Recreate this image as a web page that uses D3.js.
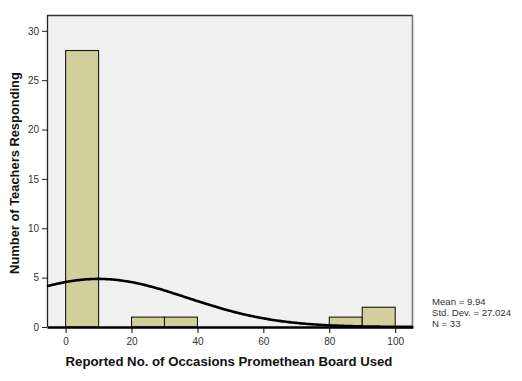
<!DOCTYPE html>
<html>
<head>
<meta charset="utf-8">
<script src="https://cdn.jsdelivr.net/npm/d3@7"></script>
<style>
  html, body { margin: 0; padding: 0; background: #fff; }
  svg { display: block; font-family: "Liberation Sans", Arial, sans-serif; }
</style>
</head>
<body>
<svg id="chart" width="522" height="381"></svg>
<script>
// Histogram bins (lower edge, upper edge) and counts
const binStarts = [0, 20, 30, 80, 90];
const binEnds   = [10, 30, 40, 90, 100];
const counts    = [28, 1, 1, 1, 2];

// Axis ticks
const xTicks = [0, 20, 40, 60, 80, 100];
const yTicks = [0, 5, 10, 15, 20, 25, 30];

// Summary statistics shown beside the plot
const mean = 9.94;
const stdDev = 27.024;
const n = 33;
const binWidth = 10;
const statLines = ["Mean = 9.94", "Std. Dev. = 27.024", "N = 33"];

const svg = d3.select("#chart");
const plot = { left: 47, top: 15, right: 413, bottom: 327 };

const x = d3.scaleLinear().domain([-5.65, 105.4]).range([plot.left, plot.right]);
const y = d3.scaleLinear().domain([0, 31.6]).range([plot.bottom, plot.top]);

// Plot background
svg.append("rect")
  .attr("x", plot.left).attr("y", plot.top)
  .attr("width", plot.right - plot.left).attr("height", plot.bottom - plot.top)
  .attr("fill", "#f0f0f0");

// Frame: dark top/left, grey right
svg.append("line").attr("x1", plot.left).attr("x2", plot.right)
  .attr("y1", plot.top + 0.5).attr("y2", plot.top + 0.5)
  .attr("stroke", "#333").attr("stroke-width", 1.3);
svg.append("line").attr("x1", plot.left + 0.5).attr("x2", plot.left + 0.5)
  .attr("y1", plot.top).attr("y2", plot.bottom)
  .attr("stroke", "#222").attr("stroke-width", 1.3);
svg.append("line").attr("x1", plot.right - 0.5).attr("x2", plot.right - 0.5)
  .attr("y1", plot.top).attr("y2", plot.bottom)
  .attr("stroke", "#7a7a7a").attr("stroke-width", 1.6);

// Bars
const bins = counts.map((c, i) => ({ x0: binStarts[i], x1: binEnds[i], count: c }));
svg.append("g").selectAll("rect").data(bins).join("rect")
  .attr("x", d => x(d.x0))
  .attr("y", d => y(d.count))
  .attr("width", d => x(d.x1) - x(d.x0))
  .attr("height", d => y(0) - y(d.count))
  .attr("fill", "#d3cf9b")
  .attr("stroke", "#1a1a1a")
  .attr("stroke-width", 1.1);

// Fitted normal curve scaled to counts
const pdfScale = n * binWidth / (stdDev * Math.sqrt(2 * Math.PI));
const curveXs = d3.range(x.domain()[0], x.domain()[1] + 0.01, 0.5);
const line = d3.line()
  .x(v => x(v))
  .y(v => y(pdfScale * Math.exp(-0.5 * Math.pow((v - mean) / stdDev, 2))))
  .curve(d3.curveBasis);
svg.append("path").datum(curveXs)
  .attr("d", line)
  .attr("fill", "none")
  .attr("stroke", "#000")
  .attr("stroke-width", 2.6);

// Bottom axis
const xAxis = svg.append("g")
  .attr("transform", `translate(0,${plot.bottom})`)
  .call(d3.axisBottom(x).tickValues(xTicks).tickSize(6).tickPadding(5).tickSizeOuter(0));
xAxis.select(".domain").attr("stroke", "#000").attr("stroke-width", 2.4);
xAxis.selectAll(".tick line").attr("stroke", "#000");
xAxis.selectAll(".tick text").attr("fill", "#333").attr("font-size", 10);

// Left axis
const yAxis = svg.append("g")
  .attr("transform", `translate(${plot.left},0)`)
  .call(d3.axisLeft(y).tickValues(yTicks).tickSize(5).tickPadding(3).tickSizeOuter(0));
yAxis.select(".domain").remove();
yAxis.selectAll(".tick line").attr("stroke", "#222");
yAxis.selectAll(".tick text").attr("fill", "#333").attr("font-size", 10);

// Axis titles
svg.append("text")
  .attr("x", (plot.left + plot.right) / 2 - 1).attr("y", 366)
  .attr("text-anchor", "middle")
  .attr("font-size", 13.2).attr("font-weight", "bold").attr("fill", "#111")
  .text("Reported No. of Occasions Promethean Board Used");

svg.append("text")
  .attr("transform", `translate(19,${(plot.top + plot.bottom) / 2 + 2}) rotate(-90)`)
  .attr("text-anchor", "middle")
  .attr("font-size", 12.9).attr("font-weight", "bold").attr("fill", "#111")
  .text("Number of Teachers Responding");

// Summary statistics
svg.append("g").selectAll("text").data(statLines).join("text")
  .attr("x", 432)
  .attr("y", (d, i) => 305 + i * 11)
  .attr("font-size", 9.6)
  .attr("fill", "#333")
  .text(d => d);
</script>
</body>
</html>
